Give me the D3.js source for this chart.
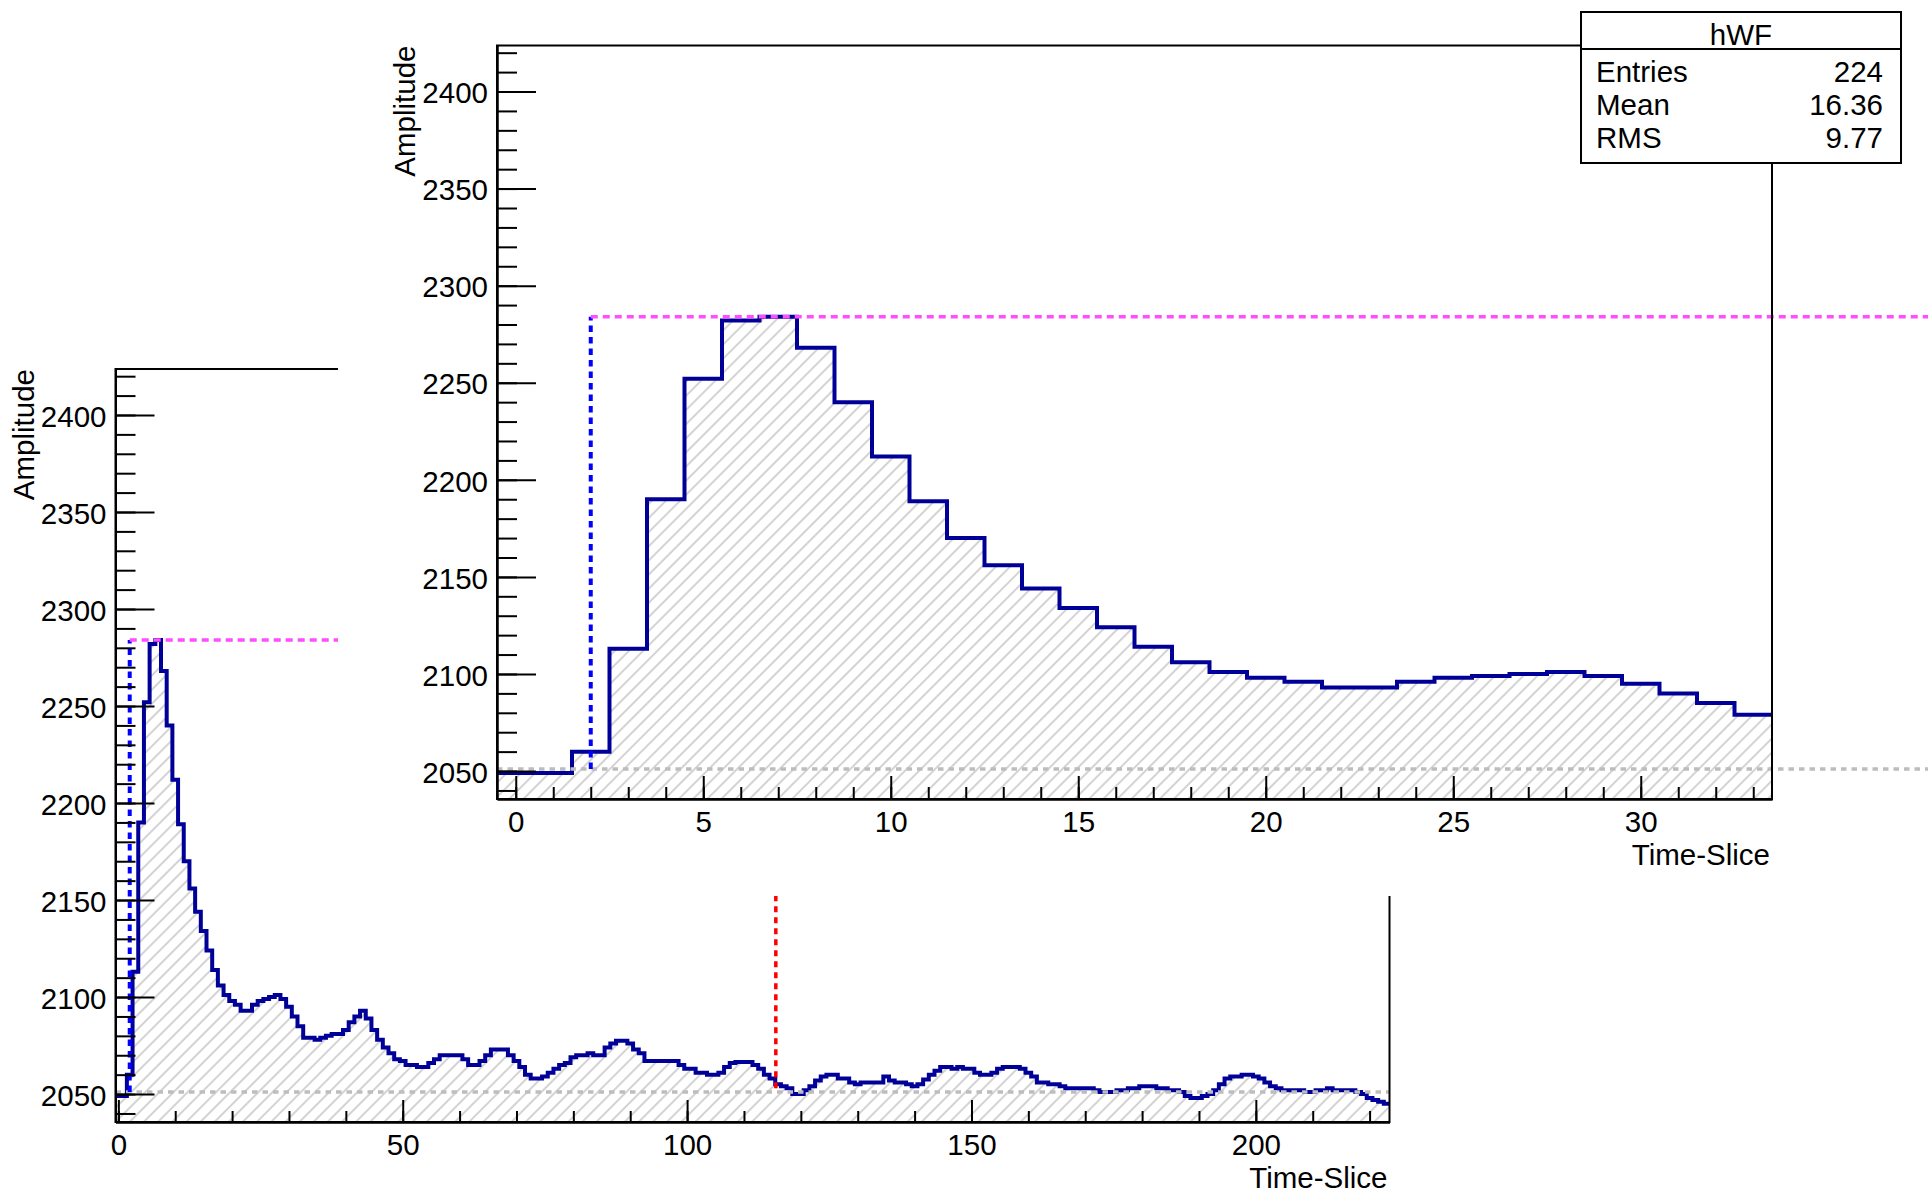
<!DOCTYPE html>
<html>
<head>
<meta charset="utf-8">
<script src="https://cdn.jsdelivr.net/npm/d3@7"></script>
<style>
  html, body { margin: 0; padding: 0; background: #fff; }
  svg { display: block; }
</style>
</head>
<body>
<svg id="canvas" width="1928" height="1193"></svg>
<script>
// ---- waveform: amplitude per time-slice (224 bins, slice i centred on i) ----
const amplitude = [
  2049, 2049, 2060, 2113, 2190, 2252, 2282, 2284, 2268, 2240,
  2212, 2189, 2170, 2156, 2144, 2134, 2124, 2114, 2106, 2101,
  2098, 2096, 2093, 2093, 2096, 2098, 2099, 2100, 2101, 2099,
  2095, 2090, 2085, 2079, 2079, 2078, 2079, 2080, 2081, 2081,
  2083, 2087, 2090, 2093, 2089, 2083, 2078, 2074, 2071, 2068,
  2067, 2065, 2065, 2064, 2064, 2066, 2068, 2070, 2070, 2070,
  2070, 2068, 2065, 2065, 2067, 2070, 2073, 2073, 2073, 2070,
  2067, 2064, 2060, 2058, 2058, 2059, 2061, 2063, 2065, 2066,
  2069, 2070, 2070, 2071, 2070, 2070, 2074, 2076, 2077.5, 2077.5,
  2076, 2073, 2071, 2067, 2067, 2067, 2067, 2067, 2067, 2065,
  2063, 2063, 2061, 2061, 2060, 2060, 2061, 2064, 2066, 2066.5,
  2066.5, 2066.5, 2065, 2063, 2060, 2058, 2055, 2054, 2053, 2050,
  2050, 2052, 2054, 2057, 2059, 2060, 2060, 2058, 2058, 2056,
  2055, 2056, 2056, 2056, 2056, 2059, 2057, 2056, 2056, 2055,
  2054, 2055, 2057.5, 2060, 2062, 2064, 2064, 2063, 2064, 2063,
  2063, 2061, 2060, 2060, 2061, 2063, 2064, 2064, 2064, 2063,
  2061, 2059, 2056, 2056, 2055, 2055, 2054, 2053, 2053, 2053,
  2053, 2053, 2052, 2051, 2051, 2051, 2052, 2052, 2053, 2053,
  2054, 2054, 2054, 2053, 2053, 2052, 2052, 2051, 2049, 2048,
  2048, 2049, 2050, 2052, 2055, 2058, 2059, 2059, 2060, 2060,
  2059, 2058, 2056, 2054, 2053, 2052, 2052, 2052, 2052, 2051,
  2051, 2052, 2052, 2053, 2052, 2052, 2052, 2052, 2051, 2050,
  2048, 2047, 2046, 2045
];

// ---- reference markers ----
const baselineLevel = 2051;   // pedestal
const peakLevel = 2284;       // maximum amplitude
const startSlice = 2;         // pulse start
const endSlice = 115.6;       // pulse end
const endLevel = 2053;

// ---- axes ----
const amplitudeRange = [2035.6, 2423.7];
const yMajorTicks = [2050, 2100, 2150, 2200, 2250, 2300, 2350, 2400];
const yMinorTicks = d3.range(2040, 2421, 10);
const xMajorTicksFull = [0, 50, 100, 150, 200];
const xMinorTicksFull = d3.range(0, 221, 10);
const xMajorTicksZoom = [0, 5, 10, 15, 20, 25, 30];
const xMinorTicksZoom = d3.range(0, 34, 1);
const zoomBins = 34;

// ---- statistics box ----
const statsTitle = "hWF";
const statsLabels = ["Entries", "Mean", "RMS"];
const statsValues = ["224", "16.36", "9.77"];

// ---- layout ----
const FONT = '"Liberation Sans", Arial, Helvetica, sans-serif';
const FS = 29.5;
const SX = 1.0;
const mainFrame = { left: 115.5, right: 1389.5, top: 369, bottom: 1122 };
const zoomFrame = { left: 497, right: 1772, top: 45.5, bottom: 799 };
const zoomPad = { x: 338, y: 0, w: 1590, h: 896 };

const svg = d3.select("#canvas");
svg.append("rect").attr("width", 1928).attr("height", 1193).attr("fill", "#fff");

const defs = svg.append("defs");
const hatch = defs.append("pattern")
  .attr("id", "hatch")
  .attr("patternUnits", "userSpaceOnUse")
  .attr("width", 10).attr("height", 10)
  .attr("patternTransform", "rotate(45)");
hatch.append("line")
  .attr("x1", 5).attr("y1", -1).attr("x2", 5).attr("y2", 11)
  .attr("stroke", "#c4c4c4").attr("stroke-width", 1.5);

defs.append("clipPath").attr("id", "zoomPadClip")
  .append("rect")
  .attr("x", zoomPad.x).attr("y", zoomPad.y)
  .attr("width", zoomPad.w).attr("height", zoomPad.h);

// place a text element through a transform around its anchor point
function stretch(sel, extra) {
  sel.each(function () {
    const t = d3.select(this);
    const x = +(t.attr("x") || 0), y = +(t.attr("y") || 0);
    t.attr("x", null).attr("y", null)
      .attr("transform", `translate(${x},${y}) ${extra || ""} scale(${SX},1)`);
  });
}

function drawPanel(root, fr, nBins, xMajor, xMinor, xMajorLen, xMinorLen, clipId) {
  const x = d3.scaleLinear().domain([-0.5, nBins - 0.5]).range([fr.left, fr.right]);
  const y = d3.scaleLinear().domain(amplitudeRange).range([fr.bottom, fr.top]);
  const lastEdge = amplitude.length - 0.5;

  const steps = amplitude.slice(0, nBins).map((v, i) => ({ edge: i - 0.5, v }));
  steps.push({ edge: nBins - 0.5, v: amplitude[nBins - 1] });

  // hatched area under the waveform
  root.append("path").datum(steps)
    .attr("d", d3.area().curve(d3.curveStepAfter)
      .x(d => x(d.edge)).y0(y(amplitudeRange[0])).y1(d => y(d.v)))
    .attr("fill", "url(#hatch)");

  // waveform outline
  root.append("path").datum(steps)
    .attr("d", d3.line().curve(d3.curveStepAfter).x(d => x(d.edge)).y(d => y(d.v)))
    .attr("fill", "none").attr("stroke", "#000099").attr("stroke-width", 4);

  // marker lines
  const marks = root.append("g");
  if (clipId) marks.attr("clip-path", `url(#${clipId})`);
  marks.append("line")
    .attr("x1", x(-0.5)).attr("x2", x(lastEdge))
    .attr("y1", y(baselineLevel)).attr("y2", y(baselineLevel))
    .attr("stroke", "#bdbdbd").attr("stroke-width", 3.5).attr("stroke-dasharray", "5.5 5");
  marks.append("line")
    .attr("x1", x(startSlice)).attr("x2", x(startSlice))
    .attr("y1", y(baselineLevel)).attr("y2", y(peakLevel))
    .attr("stroke", "#0000ff").attr("stroke-width", 4).attr("stroke-dasharray", "6.5 5");
  marks.append("line")
    .attr("x1", x(startSlice)).attr("x2", x(lastEdge))
    .attr("y1", y(peakLevel)).attr("y2", y(peakLevel))
    .attr("stroke", "#ff4dff").attr("stroke-width", 3.5).attr("stroke-dasharray", "7 5");
  if (endSlice <= nBins - 0.5) {
    marks.append("line")
      .attr("x1", x(endSlice)).attr("x2", x(endSlice))
      .attr("y1", y(endLevel)).attr("y2", y(peakLevel))
      .attr("stroke", "#ff0000").attr("stroke-width", 3.5).attr("stroke-dasharray", "6 5");
  }

  // frame
  root.append("rect")
    .attr("x", fr.left).attr("y", fr.top)
    .attr("width", fr.right - fr.left).attr("height", fr.bottom - fr.top)
    .attr("fill", "none").attr("stroke", "#000").attr("stroke-width", 2);

  const styleAxis = g => {
    g.attr("font-family", FONT).attr("font-size", FS);
    g.select(".domain").attr("stroke", "#000").attr("stroke-width", 2);
    g.selectAll(".tick line").attr("stroke", "#000").attr("stroke-width", 2);
    g.selectAll(".tick text").attr("fill", "#000");
  };

  // y axis: minor then major ticks, pointing into the frame
  root.append("g").attr("transform", `translate(${fr.left},0)`)
    .call(d3.axisLeft(y).tickValues(yMinorTicks).tickSize(-20).tickSizeOuter(0).tickFormat(""))
    .call(styleAxis);
  const gy = root.append("g").attr("transform", `translate(${fr.left},0)`)
    .call(d3.axisLeft(y).tickValues(yMajorTicks).tickSize(-39).tickSizeOuter(0)
      .tickPadding(9).tickFormat(d3.format("d")))
    .call(styleAxis);
  gy.selectAll(".tick text").attr("dy", "0.38em").call(stretch);

  // x axis
  root.append("g").attr("transform", `translate(0,${fr.bottom})`)
    .call(d3.axisBottom(x).tickValues(xMinor).tickSize(-xMinorLen).tickSizeOuter(0).tickFormat(""))
    .call(styleAxis);
  const gx = root.append("g").attr("transform", `translate(0,${fr.bottom})`)
    .call(d3.axisBottom(x).tickValues(xMajor).tickSize(-xMajorLen).tickSizeOuter(0)
      .tickPadding(12).tickFormat(d3.format("d")))
    .call(styleAxis);
  gx.selectAll(".tick text").call(stretch);

  // axis titles
  root.append("text")
    .attr("x", fr.right - 2).attr("y", fr.bottom + 66)
    .attr("text-anchor", "end").attr("font-family", FONT).attr("font-size", FS)
    .text("Time-Slice").call(stretch);
  root.append("text")
    .attr("x", fr.left - 82).attr("y", fr.top)
    .attr("text-anchor", "end").attr("font-family", FONT).attr("font-size", FS)
    .text("Amplitude").call(stretch, "rotate(-90)");
}

// full waveform
const mainG = svg.append("g");
drawPanel(mainG, mainFrame, amplitude.length, xMajorTicksFull, xMinorTicksFull, 22, 11, null);

// zoomed pad on top
const zoomG = svg.append("g");
zoomG.append("rect")
  .attr("x", zoomPad.x).attr("y", zoomPad.y)
  .attr("width", zoomPad.w).attr("height", zoomPad.h)
  .attr("fill", "#fff");
drawPanel(zoomG, zoomFrame, zoomBins, xMajorTicksZoom, xMinorTicksZoom, 23, 12, "zoomPadClip");

// statistics box
const stats = svg.append("g").attr("font-family", FONT).attr("font-size", FS);
const box = { x: 1581, y: 12, w: 320, h: 151, sep: 49 };
stats.append("rect")
  .attr("x", box.x).attr("y", box.y).attr("width", box.w).attr("height", box.h)
  .attr("fill", "#fff").attr("stroke", "#000").attr("stroke-width", 2);
stats.append("line")
  .attr("x1", box.x).attr("x2", box.x + box.w)
  .attr("y1", box.sep).attr("y2", box.sep)
  .attr("stroke", "#000").attr("stroke-width", 2);
stats.append("text")
  .attr("x", box.x + box.w / 2).attr("y", 45)
  .attr("text-anchor", "middle").text(statsTitle).call(stretch);
statsLabels.forEach((lab, i) => {
  const yb = 81.7 + i * 33.3;
  stats.append("text").attr("x", 1596).attr("y", yb).text(lab).call(stretch);
  stats.append("text").attr("x", 1883).attr("y", yb)
    .attr("text-anchor", "end").text(statsValues[i]).call(stretch);
});
</script>
</body>
</html>
